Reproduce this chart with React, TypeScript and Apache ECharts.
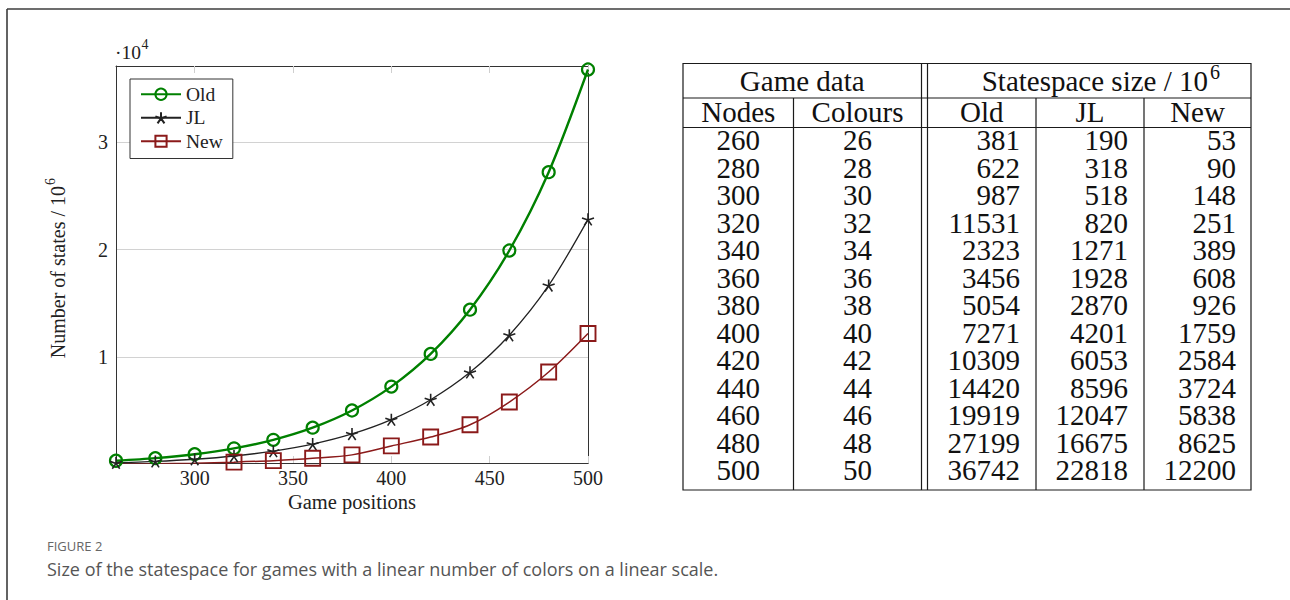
import React, { useEffect, useRef } from 'react';
import * as echarts from 'echarts';

// ---------- data ----------
const positions = [260, 280, 300, 320, 340, 360, 380, 400, 420, 440, 460, 480, 500];
const colours = [26, 28, 30, 32, 34, 36, 38, 40, 42, 44, 46, 48, 50];
const oldStates = [381, 622, 987, 1531, 2323, 3456, 5054, 7271, 10309, 14420, 19919, 27199, 36742];
const jlStates = [190, 318, 518, 820, 1271, 1928, 2870, 4201, 6053, 8596, 12047, 16675, 22818];
const newStates = [53, 90, 148, 251, 389, 608, 926, 1759, 2584, 3724, 5838, 8625, 12200];
// table column "Old" as printed in the reference (row 320 printed as 11531)
const oldTable = [381, 622, 987, 11531, 2323, 3456, 5054, 7271, 10309, 14420, 19919, 27199, 36742];
const seriesNames = ['Old', 'JL', 'New'];
const xTickValues = [300, 350, 400, 450, 500];
const yTickValues = [10000, 20000, 30000];
const groupHeaders = ['Game data', 'Statespace size / 10'];
const columnHeaders = ['Nodes', 'Colours', 'Old', 'JL', 'New'];
const captionLabel = 'FIGURE 2';
const captionText = 'Size of the statespace for games with a linear number of colors on a linear scale.';

// ---------- styles ----------
const SERIF = '"Liberation Serif", "Times New Roman", serif';
const SANS = '"Open Sans", "Noto Sans", sans-serif';
const GREEN = '#008000';
const DARKRED = '#8b1a1a';
const BLACK = '#222222';
const STAR = 'path://M0 0L0 -1M0 0L0.951 -0.309M0 0L0.588 0.809M0 0L-0.588 0.809M0 0L-0.951 -0.309';

const GRID = { left: 116, top: 66, width: 472, height: 397 };

function txt(text: string, x: number, y: number, align: string, size: number, opts: any = {}) {
  return {
    type: 'text',
    x,
    y,
    silent: true,
    style: {
      text,
      fill: opts.fill || '#111',
      fontSize: size,
      fontFamily: opts.family || SERIF,
      lineHeight: opts.lineHeight || size,
      textAlign: align,
      align,
      textVerticalAlign: 'middle',
      verticalAlign: 'middle',
    },
  };
}

function line(x1: number, y1: number, x2: number, y2: number, stroke = '#1a1a1a', w = 1.2) {
  return { type: 'line', silent: true, shape: { x1, y1, x2, y2 }, style: { stroke, lineWidth: w } };
}

function tableElements() {
  const els: any[] = [];
  const L = 683, R = 1251, T = 63.5, B = 490, H1 = 98, H2 = 127.5;
  const C1 = 793.5, D1 = 921.5, D2 = 927.5, C3 = 1036, C4 = 1144;
  els.push({
    type: 'rect',
    silent: true,
    shape: { x: L, y: T, width: R - L, height: B - T },
    style: { fill: 'none', stroke: '#1a1a1a', lineWidth: 1.2 },
  });
  els.push(line(L, H1, R, H1), line(L, H2, R, H2));
  els.push(line(C1, H1, C1, B), line(D1, T, D1, B), line(D2, T, D2, B), line(C3, H1, C3, B), line(C4, H1, C4, B));

  const FS = 29;
  const o = { lineHeight: 25 };
  els.push(txt(groupHeaders[0], (L + D1) / 2, 81, 'center', FS, o));
  els.push(txt(groupHeaders[1], 1208, 81, 'right', FS, o));
  els.push(txt('6', 1210, 72, 'left', 20));

  const headY = 112;
  const centers = [(L + C1) / 2, (C1 + D1) / 2, (D2 + C3) / 2, (C3 + C4) / 2, (C4 + R) / 2];
  columnHeaders.forEach((h, i) => els.push(txt(h, centers[i], headY, 'center', FS, o)));

  const y0 = 140, step = 27.5;
  positions.forEach((p, i) => {
    const y = y0 + i * step;
    els.push(txt(String(p), centers[0], y, 'center', FS, o));
    els.push(txt(String(colours[i]), centers[1], y, 'center', FS, o));
    els.push(txt(String(oldTable[i]), 1020, y, 'right', FS, o));
    els.push(txt(String(jlStates[i]), 1128, y, 'right', FS, o));
    els.push(txt(String(newStates[i]), 1236, y, 'right', FS, o));
  });
  return els;
}

function buildOption() {
  const mk = (vals: number[]) => positions.map((x, i) => [x, vals[i]]);
  const axisLine = { show: true, lineStyle: { color: '#333', width: 1 } };
  const xTick = { show: true, inside: true, length: 7, customValues: xTickValues, lineStyle: { color: '#cfcfcf', width: 1 } };
  const xCommon = { type: 'value', min: 260, max: 500, splitNumber: 5, splitLine: { show: false } };
  const yCommon = { type: 'value', min: 170, max: 37070, splitNumber: 5 };

  const graphics: any[] = [
    line(7, 9, 1290, 9, '#3c3c3c', 1.6),
    line(7, 9, 7, 600, '#3c3c3c', 1.6),
    txt('·10', 115, 52, 'left', 19.5, { fill: '#222' }),
    txt('4', 141.5, 44, 'left', 14, { fill: '#222' }),
    {
      type: 'group',
      x: 58,
      y: 186,
      rotation: Math.PI / 2,
      silent: true,
      children: [
        txt('Number of states / 10', 0, 0, 'right', 20, { fill: '#222' }),
        txt('6', 1, -7.5, 'left', 14, { fill: '#222' }),
      ],
    },
    txt('Game positions', GRID.left + GRID.width / 2, 502, 'center', 20.5, { fill: '#222' }),
    ...tableElements(),
    txt(captionLabel, 47, 546, 'left', 13, { fill: '#666', family: SANS }),
    txt(captionText, 47, 569, 'left', 18, { fill: '#555', family: SANS }),
  ];

  return {
    animation: false,
    backgroundColor: '#ffffff',
    grid: { ...GRID, show: false },
    legend: {
      orient: 'vertical',
      left: 130,
      top: 79,
      data: seriesNames,
      itemWidth: 40,
      itemHeight: 14,
      itemGap: 3,
      padding: [5, 10, 7, 10],
      borderColor: '#333',
      borderWidth: 1,
      backgroundColor: '#fff',
      selectedMode: false,
      textStyle: { fontFamily: SERIF, fontSize: 19.5, color: '#222', lineHeight: 20.5 },
    },
    xAxis: [
      {
        ...xCommon,
        position: 'bottom',
        axisLine,
        axisTick: xTick,
        axisLabel: {
          color: '#222',
          fontFamily: SERIF,
          fontSize: 20,
          margin: 5,
          formatter: (v: number) => (xTickValues.includes(v) ? String(v) : ''),
        },
      },
      {
        ...xCommon,
        position: 'top',
        axisLine,
        axisTick: xTick,
        axisLabel: { show: false },
      },
    ],
    yAxis: [
      {
        ...yCommon,
        position: 'left',
        axisLine,
        axisTick: { show: false },
        axisLabel: {
          color: '#222',
          fontFamily: SERIF,
          fontSize: 20,
          margin: 8,
          formatter: (v: number) => (yTickValues.includes(v) ? String(v / 10000) : ''),
        },
        splitLine: { show: true, lineStyle: { color: '#d2d2d2', width: 1 } },
      },
      {
        ...yCommon,
        position: 'right',
        axisLine,
        axisTick: { show: false },
        axisLabel: { show: false },
        splitLine: { show: false },
      },
    ],
    series: [
      {
        name: seriesNames[0],
        type: 'line',
        data: mk(oldStates),
        smooth: 0.3,
        clip: true,
        symbol: 'circle',
        symbolSize: 12,
        lineStyle: { color: GREEN, width: 2.4 },
        itemStyle: { color: 'rgba(255,255,255,0)', borderColor: GREEN, borderWidth: 2.2 },
      },
      {
        name: seriesNames[1],
        type: 'line',
        data: mk(jlStates),
        smooth: 0.3,
        clip: true,
        symbol: STAR,
        symbolSize: 12,
        lineStyle: { color: BLACK, width: 1.3 },
        itemStyle: { color: 'rgba(0,0,0,0)', borderColor: BLACK, borderWidth: 1.6 },
      },
      {
        name: seriesNames[2],
        type: 'line',
        data: mk(newStates),
        smooth: 0.3,
        clip: true,
        symbol: 'rect',
        symbolSize: 15,
        lineStyle: { color: DARKRED, width: 1.5 },
        itemStyle: { color: 'rgba(255,255,255,0)', borderColor: DARKRED, borderWidth: 1.9 },
      },
    ],
    graphic: { elements: graphics },
  };
}

export default function App() {
  const ref = useRef<HTMLDivElement>(null);
  useEffect(() => {
    if (!ref.current) return;
    const chart = echarts.init(ref.current, null, { renderer: 'svg' });
    chart.setOption(buildOption() as any);
    return () => chart.dispose();
  }, []);
  return (
    <div
      ref={ref}
      style={{ position: 'fixed', left: 0, top: 0, width: 1290, height: 600, background: '#fff' }}
    />
  );
}
